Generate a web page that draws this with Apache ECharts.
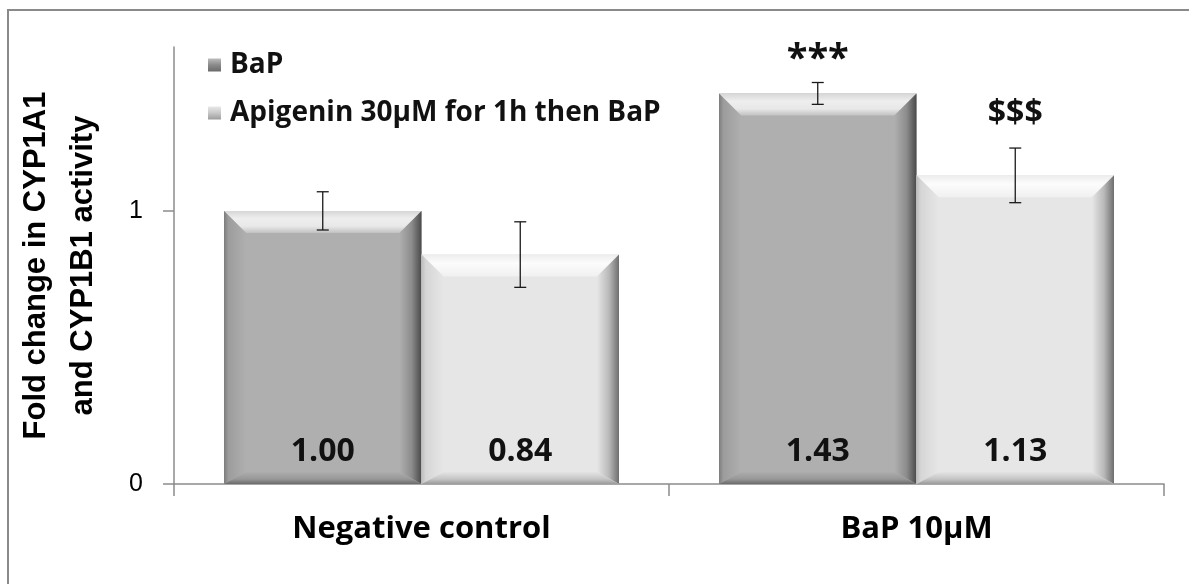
<!DOCTYPE html>
<html>
<head>
<meta charset="utf-8">
<script src="https://cdn.jsdelivr.net/npm/echarts@6/dist/echarts.min.js"></script>
<style>
  html, body { margin: 0; padding: 0; background: #fff; }
  #chart { width: 1189px; height: 584px; }
</style>
</head>
<body>
<div id="chart"></div>
<script>
var categories = ['Negative control', 'BaP 10µM'];
var seriesNames = ['BaP', 'Apigenin 30µM for 1h then BaP'];
var bapValues = [1.00, 1.43];
var bapErrors = [0.07, 0.04];
var bapMarks = ['', '***'];
var apiValues = [0.84, 1.13];
var apiErrors = [0.12, 0.10];
var apiMarks = ['', '$$$'];
var yTicks = [0, 1];

var myChart = echarts.init(document.getElementById('chart'));

var darkPal = {
	face: '#afafaf',
	top: [[0, '#d6d6d6'], [0.35, '#eeeeee'], [0.7, '#e8e8e8'], [1, '#c2c2c2']],
	left: [[0, '#7c7c7c'], [0.2, '#9c9c9c'], [1, '#afafaf']],
	right: [[0, '#afafaf'], [0.55, '#8c8c8c'], [1, '#4a4a4a']],
	bottom: [[0, '#adadad'], [0.6, '#979797'], [1, '#6a6a6a']]
};
var lightPal = {
	face: '#e6e6e6',
	top: [[0, '#ededed'], [0.4, '#fcfcfc'], [1, '#f0f0f0']],
	left: [[0, '#bcbcbc'], [0.2, '#d6d6d6'], [1, '#e6e6e6']],
	right: [[0, '#e6e6e6'], [0.55, '#b8b8b8'], [1, '#6e6e6e']],
	bottom: [[0, '#e4e4e4'], [0.6, '#c4c4c4'], [1, '#9a9a9a']]
};

function grad(vertical, stops) {
	var s = stops.map(function (p) { return { offset: p[0], color: p[1] }; });
	return vertical ? new echarts.graphic.LinearGradient(0, 0, 0, 1, s)
		: new echarts.graphic.LinearGradient(0, 0, 1, 0, s);
}

// side: -1 left bar of the group, 1 right bar; markStyle: font and gap above error bar
function makeRender(side, marks, pal, markStyle) {
	return function (params, api) {
		var i = api.value(0);
		var v = api.value(1);
		var e = api.value(2);
		var topPt = api.coord([i, v]);
		var basePt = api.coord([i, 0]);
		var w = api.size([1, 0])[0] * 0.399;
		var x0 = side < 0 ? topPt[0] - w : topPt[0];
		var x1 = x0 + w;
		var y0 = topPt[1], y1 = basePt[1];
		var b = 22, bb = 12;
		var cx = (x0 + x1) / 2;
		var eTop = api.coord([i, v + e])[1];
		var eBot = api.coord([i, v - e])[1];
		var cap = 6;
		return {
			type: 'group',
			children: [
				{ type: 'rect', shape: { x: x0, y: y0, width: w, height: y1 - y0 }, style: { fill: pal.face } },
				{ type: 'polygon', shape: { points: [[x0, y0], [x1, y0], [x1 - b, y0 + b], [x0 + b, y0 + b]] }, style: { fill: grad(true, pal.top) } },
				{ type: 'polygon', shape: { points: [[x0, y0], [x0 + b, y0 + b], [x0 + b, y1 - bb], [x0, y1]] }, style: { fill: grad(false, pal.left) } },
				{ type: 'polygon', shape: { points: [[x1, y0], [x1 - b, y0 + b], [x1 - b, y1 - bb], [x1, y1]] }, style: { fill: grad(false, pal.right) } },
				{ type: 'polygon', shape: { points: [[x0, y1], [x0 + b, y1 - bb], [x1 - b, y1 - bb], [x1, y1]] }, style: { fill: grad(true, pal.bottom) } },
				{ type: 'text', x: cx, y: y1 - 32, style: { text: v.toFixed(2), fill: '#111', font: 'bold 32px "Open Sans"', align: 'center', verticalAlign: 'middle' } },
				{ type: 'line', shape: { x1: cx, y1: eTop, x2: cx, y2: eBot }, style: { stroke: '#1a1a1a', lineWidth: 1.3 } },
				{ type: 'line', shape: { x1: cx - cap, y1: eTop, x2: cx + cap, y2: eTop }, style: { stroke: '#1a1a1a', lineWidth: 1.3 } },
				{ type: 'line', shape: { x1: cx - cap, y1: eBot, x2: cx + cap, y2: eBot }, style: { stroke: '#1a1a1a', lineWidth: 1.3 } },
				{ type: 'text', x: cx, y: eTop - markStyle.gap, style: { text: marks[params.dataIndex], fill: '#111', font: markStyle.font, align: 'center', verticalAlign: 'middle' } }
			]
		};
	};
}

function toData(values, errors) {
	return values.map(function (v, k) { return [k, v, errors[k]]; });
}

myChart.setOption({
	animation: false,
	graphic: [{
		type: 'rect',
		shape: { x: 8, y: 10, width: 1300, height: 700 },
		style: { fill: 'none', stroke: '#8a8a8a', lineWidth: 2 },
		silent: true
	}],
	grid: { left: 174, right: 25, top: 47, bottom: 100, containLabel: false, outerBoundsMode: 'none' },
	legend: {
		orient: 'vertical',
		left: 203,
		top: 46,
		itemWidth: 13,
		itemHeight: 13,
		itemGap: 20,
		textStyle: { fontFamily: 'Open Sans', fontWeight: 'bold', fontSize: 28, color: '#111', padding: [0, 0, 0, 4] },
		data: [
			{ name: seriesNames[0], icon: 'rect', itemStyle: { color: grad(true, [[0, '#bdbdbd'], [0.5, '#8a8a8a'], [1, '#6a6a6a']]) } },
			{ name: seriesNames[1], icon: 'rect', itemStyle: { color: grad(true, [[0, '#e8e8e8'], [0.5, '#c8c8c8'], [1, '#9c9c9c']]) } }
		]
	},
	xAxis: {
		type: 'category',
		data: categories,
		axisLine: { lineStyle: { color: '#8c8c8c', width: 1.5 } },
		axisTick: { show: true, length: 12, lineStyle: { color: '#8c8c8c', width: 1.5 } },
		axisLabel: { fontFamily: 'Open Sans', fontWeight: 'bold', fontSize: 31, color: '#000', margin: 30 }
	},
	yAxis: {
		type: 'value',
		min: 0,
		max: 1.6,
		interval: 1,
		name: 'Fold change in CYP1A1\nand CYP1B1 activity',
		nameLocation: 'middle',
		nameRotate: 90,
		nameGap: 67,
		nameTextStyle: { fontFamily: 'Liberation Sans', fontWeight: 'bold', fontSize: 31, color: '#000', lineHeight: 47 },
		splitLine: { show: false },
		axisLine: { show: true, lineStyle: { color: '#8c8c8c', width: 1.5 } },
		axisTick: { show: true, length: 11, customValues: yTicks, lineStyle: { color: '#8c8c8c', width: 1.5 } },
		axisLabel: { customValues: yTicks, fontFamily: 'Liberation Sans', fontSize: 25, color: '#000', margin: 31 }
	},
	series: [{
		name: seriesNames[0],
		type: 'custom',
		renderItem: makeRender(-1, bapMarks, darkPal, { font: 'bold 38px "Open Sans"', gap: 22 }),
		encode: { x: 0, y: 1 },
		data: toData(bapValues, bapErrors),
		z: 2
	}, {
		name: seriesNames[1],
		type: 'custom',
		renderItem: makeRender(1, apiMarks, lightPal, { font: 'bold 32px "Open Sans"', gap: 34 }),
		encode: { x: 0, y: 1 },
		data: toData(apiValues, apiErrors),
		z: 2
	}]
});
</script>
</body>
</html>
